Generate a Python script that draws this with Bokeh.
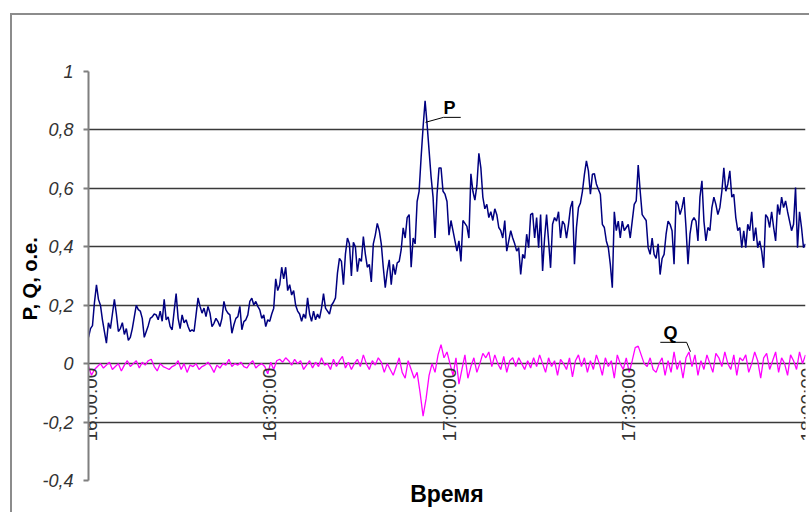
import numpy as np
import pandas as pd
from math import pi
from bokeh.plotting import figure
from bokeh.models import FixedTicker, CustomJSTickFormatter
from bokeh.core.properties import value
from bokeh.embed import file_html
from bokeh.resources import INLINE

# ---------------- data ----------------
start_time = "2000-01-01 16:00:00"
p_step_seconds = 20
q_step_seconds = 30

p_values = [
    0.09, 0.12, 0.13, 0.21, 0.27, 0.22, 0.20, 0.15, 0.11, 0.07,
    0.14, 0.12, 0.17, 0.22, 0.17, 0.11, 0.12, 0.14, 0.10, 0.12,
    0.08, 0.09, 0.12, 0.16, 0.20, 0.185, 0.18, 0.155, 0.09, 0.11,
    0.13, 0.155, 0.16, 0.17, 0.167, 0.15, 0.18, 0.145, 0.22, 0.15,
    0.16, 0.127, 0.116, 0.18, 0.24, 0.155, 0.12, 0.167, 0.14, 0.15,
    0.127, 0.11, 0.116, 0.11, 0.167, 0.225, 0.196, 0.173, 0.19, 0.161,
    0.196, 0.173, 0.127, 0.138, 0.155, 0.144, 0.127, 0.155, 0.213, 0.184,
    0.173, 0.167, 0.104, 0.133, 0.155, 0.161, 0.196, 0.116, 0.144, 0.15,
    0.167, 0.213, 0.224, 0.201, 0.213, 0.196, 0.184, 0.155, 0.167, 0.127,
    0.15,
    0.145, 0.17, 0.19, 0.29, 0.25, 0.27, 0.33, 0.29, 0.33, 0.25,
    0.27, 0.235, 0.25, 0.2, 0.18, 0.17, 0.145, 0.17, 0.155, 0.225,
    0.17, 0.145, 0.18, 0.15, 0.17, 0.155, 0.19, 0.24, 0.19, 0.18,
    0.17, 0.2, 0.21, 0.225, 0.31, 0.36, 0.35, 0.27, 0.375, 0.43,
    0.41, 0.30, 0.415, 0.40, 0.315, 0.36, 0.35, 0.435, 0.375, 0.33,
    0.34, 0.28, 0.41, 0.44, 0.48, 0.455, 0.41, 0.33, 0.26, 0.315,
    0.355, 0.27, 0.34, 0.305, 0.345, 0.35, 0.39, 0.465, 0.43, 0.50,
    0.51, 0.33, 0.43, 0.41, 0.555, 0.59, 0.706, 0.81, 0.90, 0.82,
    0.73, 0.64, 0.57, 0.43, 0.58, 0.67, 0.67, 0.59, 0.58, 0.555,
    0.44,
    0.49, 0.455, 0.42, 0.385, 0.42, 0.35, 0.49, 0.48, 0.47, 0.43,
    0.65, 0.59, 0.56, 0.61, 0.72, 0.67, 0.57, 0.53, 0.545, 0.50,
    0.52, 0.49, 0.53, 0.51, 0.466, 0.455, 0.43, 0.49, 0.385, 0.42,
    0.455, 0.43, 0.41, 0.385, 0.397, 0.305, 0.374, 0.36, 0.443, 0.397,
    0.51, 0.515, 0.43, 0.50, 0.397, 0.51, 0.317, 0.43, 0.51, 0.42,
    0.328, 0.477, 0.50, 0.488, 0.52, 0.43, 0.488, 0.477, 0.43, 0.477,
    0.534, 0.557, 0.34, 0.466, 0.534, 0.55, 0.59, 0.648, 0.694, 0.66,
    0.58, 0.648, 0.65, 0.615, 0.597, 0.58, 0.477, 0.466, 0.42, 0.397,
    0.34, 0.26, 0.52, 0.455, 0.488, 0.43, 0.488, 0.455, 0.466, 0.477,
    0.43, 0.488, 0.545, 0.557, 0.68, 0.59, 0.51, 0.50, 0.49, 0.397,
    0.374, 0.43, 0.374, 0.36, 0.41, 0.305, 0.36, 0.374, 0.443, 0.488,
    0.477, 0.455, 0.34, 0.557, 0.545, 0.51, 0.534, 0.57, 0.466, 0.34,
    0.443, 0.488, 0.50, 0.488, 0.42, 0.57, 0.626, 0.488, 0.42, 0.466,
    0.455, 0.534, 0.57, 0.545, 0.51, 0.534, 0.59, 0.67, 0.59, 0.615,
    0.66, 0.57, 0.58, 0.50, 0.455, 0.466, 0.397, 0.455, 0.397, 0.477,
    0.455, 0.52, 0.42, 0.466, 0.397, 0.42, 0.385, 0.328, 0.51, 0.50,
    0.466, 0.52, 0.466, 0.42, 0.545, 0.51, 0.57, 0.534, 0.557, 0.52,
    0.488, 0.455, 0.477, 0.603, 0.397, 0.52, 0.466, 0.397, 0.41,
]

q_values = [
    -0.01, -0.04, -0.02, -0.01, 0.0, -0.015, -0.005, 0.005, -0.02, -0.01,
    0.0, -0.025, -0.005, 0.01, -0.01, 0.0, 0.01, -0.015, 0.005, -0.005,
    0.01, 0.015, -0.01, -0.025, 0.0, -0.01, -0.015, -0.02, -0.01, -0.005,
    0.01, -0.02, 0.0, -0.03, -0.005, -0.01, 0.0, -0.02, -0.01, -0.005,
    0.005, -0.01, -0.03, -0.005, -0.015, 0.0, -0.005, 0.015, -0.01, 0.0,
    -0.005, 0.005, -0.01, -0.015, 0.0, 0.01, -0.015, -0.005, 0.0, -0.01,
    -0.035, 0.005, -0.02, 0.01, 0.015, 0.005, 0.02, 0.01, -0.005, 0.015,
    0.0, 0.01, -0.02, -0.005, 0.01, -0.015, 0.005, -0.01, 0.02, -0.005,
    0.0, -0.02, 0.015, -0.01, 0.01, 0.025, -0.015, 0.005, -0.02, 0.0,
    0.015, -0.01, 0.03, 0.0, -0.02, 0.01, -0.005, 0.02, 0.005, -0.03,
    0.0, -0.02, -0.04, -0.01, 0.02, -0.03, -0.05, 0.01, -0.02, -0.05,
    -0.03, -0.1, -0.18, -0.12, -0.04, 0.0, -0.03, 0.03, 0.065, 0.02,
    0.04, 0.0, -0.04, 0.02, -0.07, -0.02, 0.03, -0.05, -0.01, 0.02,
    -0.03, 0.0, 0.035, 0.02, 0.04, -0.01, 0.03, 0.0, -0.02, 0.025,
    -0.03, 0.01, 0.02, -0.01, 0.02, 0.0, -0.02, 0.01, -0.015, 0.02,
    -0.01, 0.03, 0.0, -0.03, 0.02, -0.01, 0.01, -0.04, 0.015, 0.0,
    -0.02, 0.02, -0.045, 0.01, 0.03, -0.01, 0.02, -0.03, 0.01, -0.02,
    0.03, 0.0, -0.04, 0.02, -0.01, 0.01, -0.05, 0.03, 0.0, -0.02,
    0.02, -0.03, 0.01, 0.055, 0.06, 0.03, 0.0, -0.01, 0.02, -0.02,
    -0.03, 0.0, 0.02, -0.04, 0.01, -0.03, 0.04, -0.02, 0.01, -0.05,
    0.02, 0.04, -0.01, 0.03, -0.04, 0.01, -0.02, 0.03, 0.0, -0.03,
    0.035, 0.02, -0.01, 0.04, 0.0, -0.02, 0.03, -0.04, 0.02, 0.01,
    0.03, -0.03, 0.0, 0.04, 0.01, -0.05, 0.02, 0.035, -0.02, 0.01,
    0.04, -0.03, 0.02, 0.0, -0.04, 0.03, 0.01, -0.02, 0.04, 0.0,
    0.03,
]

tick_labels = ["16:00:00", "16:30:00", "17:00:00", "17:30:00", "18:00:00"]
y_ticks = [-0.4, -0.2, 0.0, 0.2, 0.4, 0.6, 0.8, 1.0]
y_title = "P, Q,  о.е."
x_title = "Время"

# annotation anchors (minutes after 16:00, value)
p_label_pos = (60.4, 0.876)
p_leader = ([56.4, 59.4, 62.3], [0.826, 0.843, 0.843])
q_label_pos = (97.4, 0.104)
q_leader = ([95.7, 100.1, 100.75], [0.073, 0.073, 0.041])

# ---------------- build ----------------
t0 = pd.Timestamp(start_time)
p_time = t0 + pd.to_timedelta(np.arange(len(p_values)) * p_step_seconds, unit="s")
q_time = t0 + pd.to_timedelta(np.arange(len(q_values)) * q_step_seconds, unit="s")
tick_times = [pd.Timestamp("2000-01-01 " + t) for t in tick_labels]
t_end = tick_times[-1]


def tm(minutes):
    return t0 + pd.Timedelta(minutes=minutes)


FONT = "Liberation Sans"

p = figure(width=799, height=499, x_axis_type="datetime",
           x_range=(t0, t_end), y_range=(-0.4, 1.0),
           output_backend="svg", toolbar_location=None,
           min_border_left=76, min_border_top=56,
           min_border_bottom=34, min_border_right=6)
# outer chart-area border (left and top edges visible in the original)
p.styles = {"position": "relative", "left": "10px", "top": "13px",
            "border-left": "2px solid #8c8c8c",
            "border-top": "2px solid #8c8c8c"}
p.outline_line_color = None
p.background_fill_color = "white"
p.border_fill_color = "white"

# grid
p.xgrid.visible = False
p.ygrid.ticker = FixedTicker(ticks=y_ticks)
p.ygrid.grid_line_color = "#3a3a3a"
p.ygrid.grid_line_width = 1.5

# y axis
ax = p.yaxis[0]
ax.ticker = FixedTicker(ticks=y_ticks)
ax.formatter = CustomJSTickFormatter(
    code="var v = Math.round(tick*10)/10; return String(v).replace('.', ',');")
ax.axis_line_color = "#7f7f7f"
ax.axis_line_width = 2
ax.major_tick_line_color = "#7f7f7f"
ax.major_tick_line_width = 2
ax.major_tick_out = 5
ax.major_tick_in = 0
ax.minor_tick_line_color = None
ax.major_label_standoff = 10
ax.major_label_text_font = FONT
ax.major_label_text_font_style = "italic"
ax.major_label_text_font_size = "18px"
ax.major_label_text_color = "#333333"
ax.axis_label = y_title
ax.axis_label_text_font = FONT
ax.axis_label_text_font_style = "bold"
ax.axis_label_text_font_size = "20px"
ax.axis_label_text_color = "#000000"
ax.axis_label_standoff = -2

# bottom axis only carries the title (tick labels sit at y = 0)
bx = p.xaxis[0]
bx.ticker = FixedTicker(ticks=[])
bx.axis_line_color = None
bx.major_tick_line_color = None
bx.minor_tick_line_color = None
bx.major_tick_out = 0
bx.major_tick_in = 0
bx.minor_tick_out = 0
bx.major_label_standoff = 0
bx.axis_label = x_title
bx.axis_label_text_font = FONT
bx.axis_label_text_font_style = "bold"
bx.axis_label_text_font_size = "23px"
bx.axis_label_text_color = "#000000"
bx.axis_label_standoff = 0

# series
p.line(x=q_time, y=q_values, line_color="#FF00FF", line_width=1.3)
p.line(x=p_time, y=p_values, line_color="#000080", line_width=1.5)

# x tick labels at y = 0 (axis crosses at zero)
p.text(x=tick_times, y=[0.0] * len(tick_times), text=tick_labels,
       angle=pi / 2, text_align="right", text_baseline="middle",
       x_offset=2, y_offset=4,
       text_font=value(FONT), text_font_size="19px", text_color="#333333")

# series labels with leader lines
p.line(x=[tm(m) for m in p_leader[0]], y=p_leader[1], line_color="black", line_width=1)
p.line(x=[tm(m) for m in q_leader[0]], y=q_leader[1], line_color="black", line_width=1)
p.text(x=[tm(p_label_pos[0]), tm(q_label_pos[0])], y=[p_label_pos[1], q_label_pos[1]],
       text=["P", "Q"], text_align="center", text_baseline="middle",
       text_font=value(FONT), text_font_style="bold", text_font_size="18px",
       text_color="black")

open("out.html", "w").write(file_html(p, INLINE))
